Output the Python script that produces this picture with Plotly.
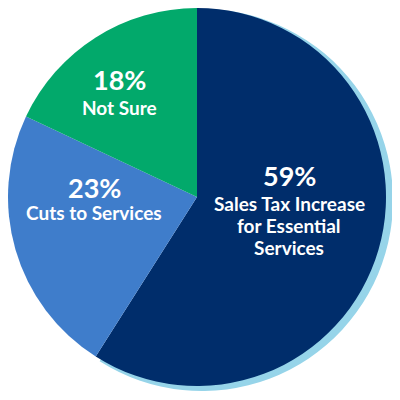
import plotly.graph_objects as go

categories = ["Sales Tax Increase<br>for Essential<br>Services", "Cuts to Services", "Not Sure"]
values = [59, 23, 18]
pct_labels = ["59%", "23%", "18%"]
colors = ["#002D6B", "#3F7DCB", "#02A96B"]
shadow_color = "#96D4E9"

W = H = 400
OFF = 8  # page body margin
cx, cy, r = 197 - OFF, 197 - OFF, 189

def dom(cx, cy, r):
    return dict(x=[(cx - r) / W, (cx + r) / W], y=[(H - cy - r) / H, (H - cy + r) / H])

fig = go.Figure()
fig.add_trace(go.Pie(
    values=values, sort=False, direction="clockwise", rotation=0,
    marker=dict(colors=[shadow_color, "rgba(0,0,0,0)", "rgba(0,0,0,0)"], line=dict(width=0)),
    textinfo="none", hoverinfo="skip", showlegend=False,
    domain=dom(cx + 5, cy + 3, r + 2),
))
fig.add_trace(go.Pie(
    values=values, labels=categories, sort=False, direction="clockwise", rotation=0,
    marker=dict(colors=colors, line=dict(width=0)),
    textinfo="none", showlegend=False,
    domain=dom(cx, cy, r),
))

# (x centre, y of pct, y of first label line) in screen pixels
pos = [(289, 174, 202), (94, 186, 212), (119.5, 79, 106)]
line_gap = 22
anns = []
for (x, yp, yl), p, c in zip(pos, pct_labels, categories):
    xs = (x - OFF) / W
    anns.append(dict(x=xs, y=1 - (yp - OFF + 1) / H, xref="paper", yref="paper", text="<b>%s</b>" % p,
                     xanchor="center", yanchor="middle",
                     showarrow=False, font=dict(family="Lato", size=27, color="white")))
    for i, line in enumerate(c.split("<br>")):
        anns.append(dict(x=xs, y=1 - (yl + i * line_gap - OFF + 1) / H, xref="paper", yref="paper",
                         text="<b>%s</b>" % line, xanchor="center", yanchor="middle",
                         showarrow=False, font=dict(family="Lato", size=19, color="white")))

fig.update_layout(width=W, height=H, margin=dict(l=0, r=0, t=0, b=0),
                  paper_bgcolor="white", plot_bgcolor="white", annotations=anns)
fig.write_html("out.html")
